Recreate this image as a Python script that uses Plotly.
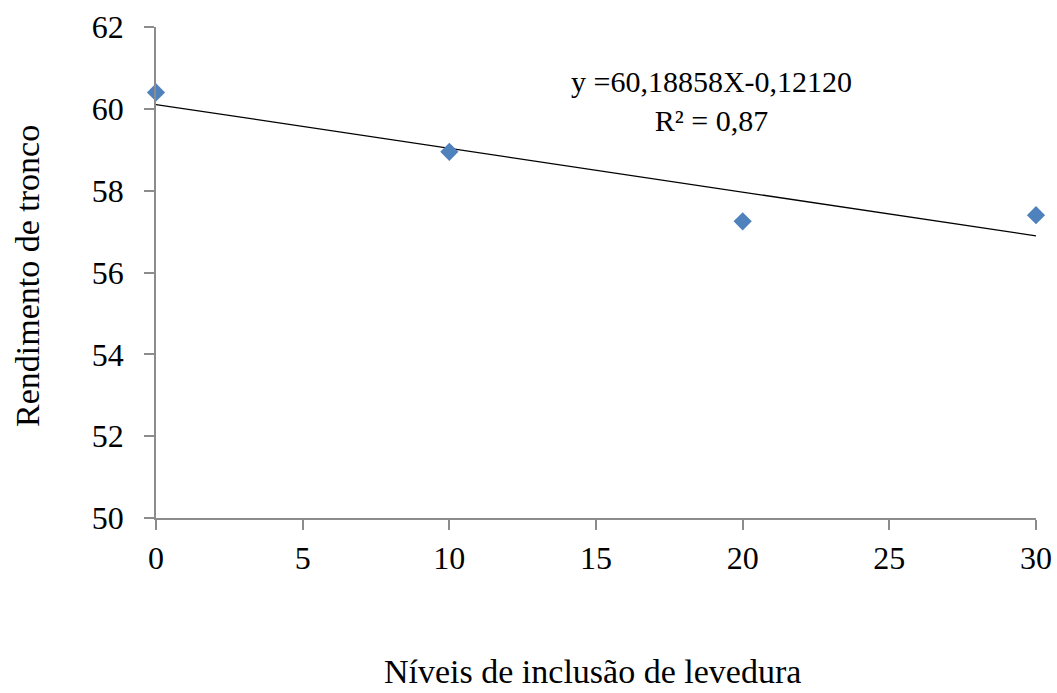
import numpy as np
import plotly.graph_objects as go

x_levels = [0, 10, 20, 30]
rendimento = [60.40, 58.95, 57.25, 57.40]
x_ticks = [0, 5, 10, 15, 20, 25, 30]
y_ticks = [50, 52, 54, 56, 58, 60, 62]
equation_text = "y =60,18858X-0,12120<br>R² = 0,87"
x_title = "Níveis de inclusão de levedura"
y_title = "Rendimento de tronco"

slope, intercept = np.polyfit(x_levels, rendimento, 1)
trend_x = [min(x_levels), max(x_levels)]
trend_y = [intercept + slope * v for v in trend_x]

font_family = "Liberation Serif, Times New Roman, serif"

W, H = 1057, 693
# plot area in screen pixels
PX0, PX1, PY0, PY1 = 156, 1036, 27, 518


def px(sx):
    return (sx - PX0) / (PX1 - PX0)


def py(sy):
    return (PY1 - sy) / (PY1 - PY0)


fig = go.Figure()
fig.add_trace(go.Scatter(x=trend_x, y=trend_y, mode="lines",
                         line=dict(color="black", width=1.3), showlegend=False,
                         hoverinfo="skip"))
fig.add_trace(go.Scatter(x=x_levels, y=rendimento, mode="markers",
                         marker=dict(symbol="diamond", size=14, color="#4F81BD",
                                     line=dict(width=0)),
                         cliponaxis=False, showlegend=False))

axis_common = dict(showgrid=False, zeroline=False, showline=True, linecolor="#8C8C8C",
                   linewidth=1.5, ticks="outside", tickcolor="#8C8C8C", ticklen=10,
                   tickwidth=1.5, automargin=False,
                   tickfont=dict(family=font_family, size=32, color="black"))

fig.update_xaxes(range=[0, 30], tickvals=x_ticks, ticklabelstandoff=1, **axis_common)
fig.update_yaxes(range=[50, 62], tickvals=y_ticks, ticklabelstandoff=14, **axis_common)

fig.add_annotation(x=px(711), y=py(101), xref="paper", yref="paper",
                   xanchor="center", yanchor="middle",
                   text=equation_text, showarrow=False, align="center",
                   font=dict(family=font_family, size=30, color="black"))
fig.add_annotation(x=px(592), y=py(671), xref="paper", yref="paper",
                   text=x_title, showarrow=False,
                   yanchor="middle", xanchor="center",
                   font=dict(family=font_family, size=34, color="black"))
fig.add_annotation(x=px(27), y=py(276), xref="paper", yref="paper",
                   text=y_title, showarrow=False, textangle=-90,
                   yanchor="middle", xanchor="center",
                   font=dict(family=font_family, size=34, color="black"))

fig.update_layout(width=W, height=H, plot_bgcolor="white", paper_bgcolor="white",
                  margin=dict(l=PX0, r=W - PX1, t=PY0, b=H - PY1, autoexpand=False))
fig.write_html("out.html", config={"displayModeBar": False},
               post_script="document.body.style.margin='0px';document.body.style.overflow='hidden';")
